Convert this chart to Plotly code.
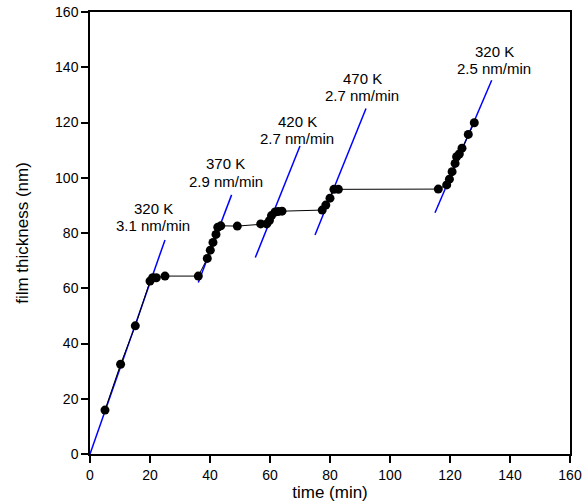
import plotly.graph_objects as go

# measured film thickness vs time
time_min = [5, 10.2, 15.1, 20, 20.9, 22.1, 25, 36.1,
            39.1, 40.1, 41, 42, 42.6, 43.6, 49.1,
            56.9, 58.9, 59.8, 60.5, 61.7, 62.7, 64,
            77.4, 78.6, 80, 81.3, 82.8,
            116.1, 118.9, 119.8, 120.7, 121.7, 122.2, 123.1, 124, 126.1, 128.1]
thickness_nm = [15.9, 32.5, 46.4, 62.6, 63.8, 63.8, 64.4, 64.4,
                70.8, 73.8, 76.6, 79.5, 82.1, 82.6, 82.5,
                83.3, 83.3, 84.5, 86.3, 87.6, 87.8, 87.9,
                88.3, 90.1, 92.6, 95.8, 95.8,
                95.9, 97.4, 99.5, 102.2, 105.2, 107.6, 108.6, 110.7, 115.7, 119.9]

# linear growth fit segments (start/end time, start/end thickness)
fit_t0 = [0, 36.1, 55.1, 75, 115]
fit_t1 = [25, 47.2, 70, 92, 133.9]
fit_y0 = [0, 62.1, 71.1, 79.3, 87.3]
fit_y1 = [77.5, 93.8, 111.5, 125.1, 135.3]

# labels
label_temp = ["320 K", "370 K", "420 K", "470 K", "320 K"]
label_rate = ["3.1 nm/min", "2.9 nm/min", "2.7 nm/min", "2.7 nm/min", "2.5 nm/min"]
label_t = [21, 45.2, 69, 90.7, 134.7]
label_y_temp = [89.0, 105.0, 120.4, 135.9, 145.8]
label_y_rate = [82.8, 98.8, 114.2, 129.7, 139.6]

x_ticks = [0, 20, 40, 60, 80, 100, 120, 140, 160]
y_ticks = [0, 20, 40, 60, 80, 100, 120, 140, 160]

fig = go.Figure()

for a, b, c, d in zip(fit_t0, fit_t1, fit_y0, fit_y1):
    fig.add_trace(go.Scatter(x=[a, b], y=[c, d], mode="lines",
                             line=dict(color="#0000ff", width=1.5),
                             showlegend=False, hoverinfo="skip"))

fig.add_trace(go.Scatter(x=time_min, y=thickness_nm, mode="lines+markers",
                         line=dict(color="black", width=1),
                         marker=dict(color="black", size=9),
                         showlegend=False))

font_family = "Liberation Sans, Arial, sans-serif"
for t, txt, y in zip(label_t, label_temp, label_y_temp):
    fig.add_annotation(x=t, y=y, text=txt, showarrow=False, borderpad=0,
                       font=dict(family=font_family, size=15, color="black"))
for t, txt, y in zip(label_t, label_rate, label_y_rate):
    fig.add_annotation(x=t, y=y, text=txt, showarrow=False, borderpad=0,
                       font=dict(family=font_family, size=15, color="black"))

axis_common = dict(showgrid=False, zeroline=False, showline=True,
                   linecolor="black", linewidth=1.5, mirror=True,
                   ticks="outside", ticklen=7, tickwidth=1.5, tickcolor="black",
                   automargin=False,
                   tickfont=dict(family=font_family, size=14, color="black"))

fig.update_xaxes(range=[0, 160], tickvals=x_ticks,
                 title=dict(text="time (min)", standoff=0,
                            font=dict(family=font_family, size=17, color="black")),
                 **axis_common)
fig.update_yaxes(range=[0, 160], tickvals=y_ticks,
                 title=dict(text="film thickness (nm)", standoff=22,
                            font=dict(family=font_family, size=17, color="black")),
                 **axis_common)

fig.update_layout(width=588, height=504,
                  margin=dict(l=90, r=18, t=12, b=50),
                  plot_bgcolor="white", paper_bgcolor="white")

fig.write_html("out.html")
